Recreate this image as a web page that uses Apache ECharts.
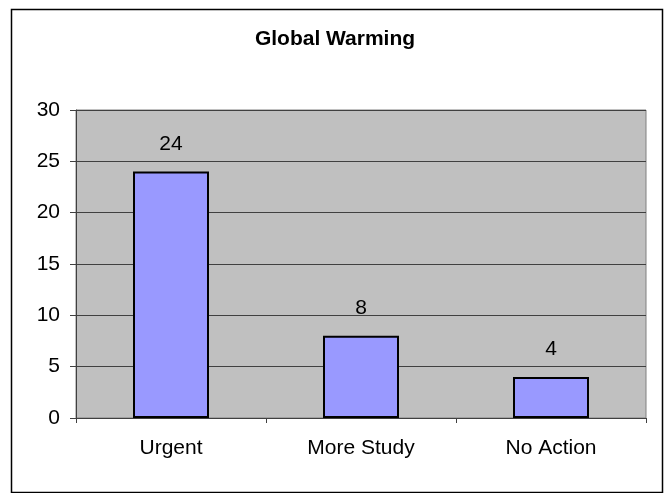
<!DOCTYPE html>
<html><head><meta charset="utf-8">
<script src="https://cdn.jsdelivr.net/npm/echarts@6/dist/echarts.min.js"></script>
<style>html,body{margin:0;padding:0;background:#fff}#c{width:670px;height:493px}</style>
</head><body><div id="c"></div>
<script>
const categories = ['Urgent', 'More Study', 'No Action'];
const values = [24, 8, 4];
const yTicks = [0, 5, 10, 15, 20, 25, 30];

const chart = echarts.init(document.getElementById('c'), null, {renderer: 'canvas'});
const font = 'Liberation Sans, Arial, sans-serif';
chart.setOption({
  animation: false,
  backgroundColor: '#fff',
  title: {
    text: 'Global Warming', left: 'center', top: 24,
    textStyle: {fontFamily: font, fontSize: 21, fontWeight: 'bold', color: '#000'}
  },
  graphic: [{
    type: 'rect', left: 9, top: 7, z: 100, silent: true,
    shape: {width: 651, height: 483},
    style: {fill: 'none', stroke: '#000', lineWidth: 1.5}
  }],
  grid: {
    left: 76, right: 24, top: 110, bottom: 75, show: true,
    backgroundColor: '#C0C0C0', borderColor: '#808080', borderWidth: 1
  },
  xAxis: {
    type: 'category', data: categories, boundaryGap: true,
    axisLine: {lineStyle: {color: '#404040', width: 1}},
    axisTick: {show: true, alignWithLabel: false, length: 5, lineStyle: {color: '#404040'}},
    axisLabel: {fontFamily: font, fontSize: 21, color: '#000', margin: 20}
  },
  yAxis: {
    type: 'value', min: yTicks[0], max: yTicks[yTicks.length - 1], interval: 5,
    axisLine: {show: true, lineStyle: {color: '#404040', width: 1}},
    axisTick: {show: true, length: 6, lineStyle: {color: '#404040'}},
    axisLabel: {fontFamily: font, fontSize: 21, color: '#000', margin: 16},
    splitLine: {show: true, lineStyle: {color: '#404040', width: 1}}
  },
  series: [{
    type: 'bar', data: values, barWidth: '40%',
    itemStyle: {color: '#9999FF', borderColor: '#000', borderWidth: 2},
    label: {show: true, position: 'top', distance: 17, fontFamily: font, fontSize: 21, color: '#000'}
  }]
});
</script></body></html>
